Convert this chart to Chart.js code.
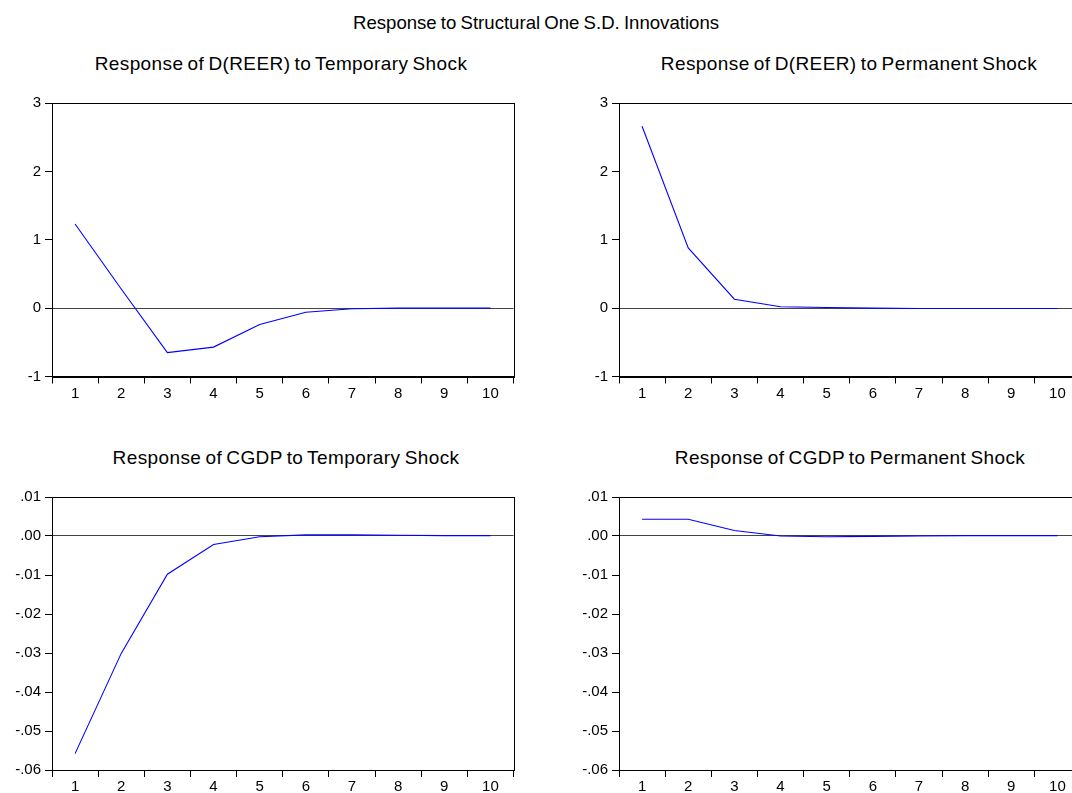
<!DOCTYPE html>
<html>
<head>
<meta charset="utf-8">
<script src="https://cdn.jsdelivr.net/npm/chart.js@4.4.1/dist/chart.umd.min.js"></script>
<style>
  html, body { margin:0; padding:0; background:#fff; width:1072px; height:793px; overflow:hidden; position:relative; }
  .ttl { position:absolute; font-family:"Liberation Sans", Arial, sans-serif; color:#000; white-space:nowrap; line-height:1; transform:translateX(-50%); }
  .main { font-size:18.6px; word-spacing:-1px; }
  .sub { font-size:19px; letter-spacing:0.4px; word-spacing:-1.5px; }
  canvas { position:absolute; }
</style>
</head>
<body>
<div class="ttl main" id="mainTitle" style="left:536px; top:14px;">Response to Structural One S.D. Innovations</div>
<div class="ttl sub" style="left:281px; top:54px;">Response of D(REER) to Temporary Shock</div>
<div class="ttl sub" style="left:849px; top:54px;">Response of D(REER) to Permanent Shock</div>
<div class="ttl sub" style="left:286px; top:448px;">Response of CGDP to Temporary Shock</div>
<div class="ttl sub" style="left:850px; top:448px;">Response of CGDP to Permanent Shock</div>
<canvas id="c1" width="530" height="320" style="left:0px; top:90px;"></canvas>
<canvas id="c2" width="530" height="320" style="left:567px; top:90px;"></canvas>
<canvas id="c3" width="530" height="320" style="left:0px; top:484px;"></canvas>
<canvas id="c4" width="530" height="320" style="left:567px; top:484px;"></canvas>
<script>
// ---- data ----
const periods = ['1','2','3','4','5','6','7','8','9','10'];
const reerTemporary = [1.23, 0.28, -0.65, -0.57, -0.24, -0.06, -0.01, 0.0, 0.0, 0.0];
const reerPermanent = [2.66, 0.88, 0.13, 0.02, 0.01, 0.0, -0.005, -0.005, -0.005, -0.005];
const cgdpTemporary = [-0.0558, -0.0301, -0.0098, -0.0022, -0.0002, 0.0003, 0.0003, 0.0002, 0.0001, 0.0001];
const cgdpPermanent = [0.0043, 0.0043, 0.0014, 0.0000, -0.0002, -0.0001, 0.0000, 0.0001, 0.0001, 0.0001];
const reerTickValues = [-1, 0, 1, 2, 3];
const reerTickLabels = ['-1', '0', '1', '2', '3'];
const cgdpTickValues = [-0.06, -0.05, -0.04, -0.03, -0.02, -0.01, 0, 0.01];
const cgdpTickLabels = ['-.06', '-.05', '-.04', '-.03', '-.02', '-.01', '.00', '.01'];

const FONT = { family: '"Liberation Sans", Arial, sans-serif', size: 15 };

const frame = {
  id: 'frame',
  afterDraw(chart) {
    const a = chart.chartArea, ctx = chart.ctx;
    ctx.save();
    ctx.strokeStyle = '#000';
    ctx.lineWidth = 1;
    ctx.strokeRect(Math.round(a.left) + 0.5, Math.round(a.top) + 0.5, Math.round(a.right - a.left), Math.round(a.bottom - a.top));
    ctx.restore();
  }
};

function makeChart(id, values, tickValues, tickLabels, padTop, xH) {
  const yMin = tickValues[0], yMax = tickValues[tickValues.length - 1];
  return new Chart(document.getElementById(id), {
    type: 'line',
    data: {
      labels: periods,
      datasets: [{ data: values, borderColor: '#0000ff', borderWidth: 1.1, pointRadius: 0, tension: 0, fill: false }]
    },
    options: {
      responsive: false,
      animation: false,
      events: [],
      layout: { padding: { top: padTop, right: 16.5, left: 0, bottom: 0 } },
      plugins: { legend: { display: false }, tooltip: { enabled: false }, title: { display: false } },
      scales: {
        x: {
          type: 'category',
          offset: true,
          grid: { offset: true, drawOnChartArea: false, drawTicks: true, tickLength: 7, color: '#000' },
          border: { display: true, color: '#000', width: 1 },
          ticks: { font: FONT, color: '#000', padding: 1, maxRotation: 0, autoSkip: false },
          afterFit: s => { s.height = xH; }
        },
        y: {
          min: yMin, max: yMax,
          afterBuildTicks: s => { s.ticks = tickValues.map(v => ({ value: v })); },
          grid: {
            drawOnChartArea: true, drawTicks: true, tickLength: 7,
            color: c => (c.tick && Math.abs(c.tick.value) < 1e-12) ? '#444' : 'rgba(0,0,0,0)',
            tickColor: '#000'
          },
          border: { display: true, color: '#000', width: 1 },
          ticks: {
            font: FONT, color: '#000', padding: 4, autoSkip: false,
            callback: (v) => {
              const i = tickValues.findIndex(t => Math.abs(t - v) < 1e-12);
              return i >= 0 ? tickLabels[i] : '';
            }
          },
          afterFit: s => { s.width = 52; }
        }
      }
    },
    plugins: [frame]
  });
}

makeChart('c1', reerTemporary, reerTickValues, reerTickLabels, 9, 33.5);
makeChart('c2', reerPermanent, reerTickValues, reerTickLabels, 9, 33.5);
makeChart('c3', cgdpTemporary, cgdpTickValues, cgdpTickLabels, 9.3, 34);
makeChart('c4', cgdpPermanent, cgdpTickValues, cgdpTickLabels, 9.3, 34);
</script>
</body>
</html>
